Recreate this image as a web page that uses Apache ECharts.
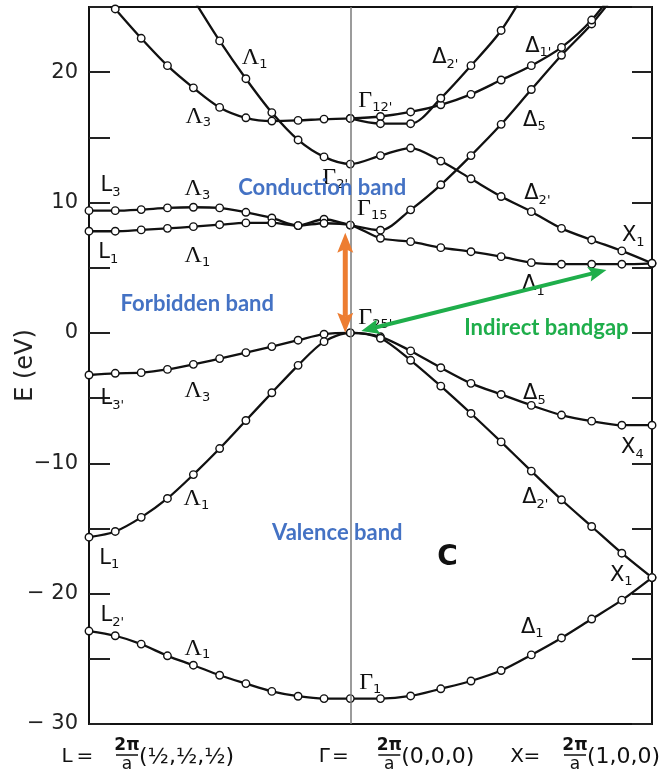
<!DOCTYPE html>
<html>
<head>
<meta charset="utf-8">
<title>Band structure of diamond</title>
<script src="https://cdn.jsdelivr.net/npm/echarts@6.0.0/dist/echarts.min.js"></script>
<style>
  html, body { margin: 0; padding: 0; background: #fff; }
  #chart { width: 667px; height: 776px; }
</style>
</head>
<body>
<div id="chart"></div>
<script>
// Wave-vector of the computed points, in units of 2π/a (|ΓL| = √3/2, |ΓX| = 1)
const kLG = [-0.866, -0.779, -0.693, -0.606, -0.520, -0.433, -0.346, -0.260, -0.173, -0.087, 0];
const kGX = [0, 0.1, 0.2, 0.3, 0.4, 0.5, 0.6, 0.7, 0.8, 0.9, 1.0];

// Energies (eV) along L → Γ (Λ direction); null = above the plotted range
const lamCondA1High = [null, null, null, null, 25.6, 22.4, 19.5, 16.9, 14.8, 13.5, 12.95];
const lamCondA3High = [null, 24.85, 22.6, 20.5, 18.8, 17.3, 16.5, 16.25, 16.3, 16.4, 16.45];
const lamCondL3 = [9.38, 9.38, 9.46, 9.59, 9.64, 9.59, 9.25, 8.82, 8.23, 8.72, 8.27];
const lamCondL1 = [7.8, 7.8, 7.9, 8.02, 8.15, 8.3, 8.44, 8.44, 8.23, 8.41, 8.27];
const lamValL3p = [-3.23, -3.1, -3.05, -2.8, -2.41, -1.97, -1.51, -1.05, -0.56, -0.1, 0];
const lamValL1 = [-15.67, -15.23, -14.15, -12.7, -10.87, -8.87, -6.72, -4.59, -2.49, -0.67, 0];
const lamValL2p = [-22.87, -23.23, -23.87, -24.77, -25.49, -26.26, -26.9, -27.5, -27.87, -28.05, -28.05];

// Energies (eV) along Γ → X (Δ direction)
const delCond2pHigh = [16.45, 16.05, 16.05, 18.0, 20.5, 23.2, 27.0, null, null, null, null];
const delCond1p = [16.45, 16.6, 16.95, 17.5, 18.3, 19.4, 20.5, 21.9, 24.0, 27.0, null];
const delCond5 = [8.27, 7.88, 9.44, 11.36, 13.6, 16.0, 18.67, 21.3, 23.7, 26.6, null];
const delCond2p = [12.95, 13.6, 14.18, 13.18, 11.82, 10.46, 9.3, 8.02, 7.13, 6.29, 5.34];
const delCond1 = [8.27, 7.26, 7.0, 6.54, 6.23, 5.85, 5.39, 5.27, 5.27, 5.27, 5.34];
const delVal5 = [0, -0.3, -1.38, -2.67, -3.87, -4.72, -5.56, -6.3, -6.77, -7.08, -7.08];
const delVal2p = [0, -0.41, -2.1, -4.08, -6.18, -8.36, -10.6, -12.8, -14.85, -16.9, -18.77];
const delVal1 = [-28.05, -28.05, -27.85, -27.3, -26.7, -25.9, -24.7, -23.4, -21.95, -20.5, -18.77];

// Energy axis
const energyMin = -30, energyMax = 25, energyStep = 5;
const energyLabelled = [-30, -20, -10, 0, 10, 20];

// Symmetry points on the k axis
const symNames = ['L', 'Γ', 'X'];
const symK = [-0.866, 0, 1];
const symVectors = ['(½,½,½)', '(0,0,0)', '(1,0,0)'];

// Irreducible-representation labels: symbol, subscript, anchor (k, E)
const bandLabels = [
  ['Λ', '1', -0.317, 21.1], ['Λ', '3', -0.504, 16.6], ['Γ', "12'", 0.083, 17.8],
  ['Δ', "2'", 0.315, 21.1], ['Δ', "1'", 0.623, 22.0], ['Δ', '5', 0.61, 16.3],
  ['Γ', "2'", -0.05, 11.9], ['Γ', '15', 0.073, 9.5], ['Δ', "2'", 0.62, 10.66],
  ['X', '1', 0.938, 7.44], ['L', '3', -0.795, 11.27], ['Λ', '3', -0.507, 11.04],
  ['L', '1', -0.802, 6.13], ['Λ', '1', -0.507, 5.9], ['Δ', '1', 0.607, 3.68],
  ['Γ', "25'", 0.083, 1.15], ['L', "3'", -0.789, -5.06], ['Λ', '3', -0.507, -4.45],
  ['Δ', '5', 0.61, -4.68], ['X', '4', 0.935, -8.82], ['Λ', '1', -0.51, -12.73],
  ['Δ', "2'", 0.613, -12.65], ['L', '1', -0.799, -17.3], ['X', '1', 0.898, -18.6],
  ['L', "2'", -0.789, -21.7], ['Λ', '1', -0.507, -24.2], ['Δ', '1', 0.603, -22.6],
  ['Γ', '1', 0.066, -26.84]
];

// Region captions: text, anchor (k, E)
const regionCaptions = [
  ['Conduction band', -0.093, 11.12],
  ['Forbidden band', -0.507, 2.22],
  ['Valence band', -0.043, -15.34]
];
const gapCaption = ['Indirect bandgap', 0.65, 0.38];

// Gap arrows, tip to tip: [k1, E1, k2, E2]
const directGap = [-0.0166, 7.69, -0.0166, 0.02];
const indirectGap = [0.0365, 0.15, 0.849, 4.83];

function pts(ks, es) {
  return ks.map((k, i) => [k, es[i]]).filter(p => p[1] !== null);
}
function through(left, right) {
  return pts(kLG, left).concat(pts(kGX, right).slice(1));
}

const bands = [
  through(lamValL3p, delVal5),
  through(lamValL1, delVal2p),
  through(lamValL2p, delVal1),
  through(lamCondL3, delCond5),
  through(lamCondL1, delCond1),
  through(lamCondA1High, delCond2p),
  through(lamCondA3High, delCond1p),
  pts(kGX, delCond2pHigh)
];

const INK = '#111';
const ORANGE = '#ED7D31';
const GREEN = '#1FAE4B';
const BLUE = '#4472C4';

const bandSeries = bands.map(d => ({
  type: 'line',
  data: d,
  smooth: 0.3,
  symbol: 'circle',
  symbolSize: 7.5,
  showSymbol: true,
  clip: true,
  z: 3,
  lineStyle: { color: INK, width: 2.3 },
  itemStyle: { color: '#fff', borderColor: INK, borderWidth: 1.4 },
  emphasis: { disabled: true },
  silent: true
}));

// Double-headed arrow between two data points
function arrowItem(params, api) {
  const a = api.coord([api.value(0), api.value(1)]);
  const b = api.coord([api.value(2), api.value(3)]);
  const direct = api.value(4) === 0;
  const color = direct ? ORANGE : GREEN;
  const width = direct ? 5 : 4;
  const headLen = direct ? 20 : 18;
  const headHalf = direct ? 8 : 7.5;
  const dx = b[0] - a[0], dy = b[1] - a[1];
  const len = Math.sqrt(dx * dx + dy * dy);
  const ux = dx / len, uy = dy / len;
  const nx = -uy, ny = ux;
  function head(tip, sx, sy) {
    const bx = tip[0] + sx * headLen, by = tip[1] + sy * headLen;
    const nb = [tip[0] + sx * headLen * 0.82, tip[1] + sy * headLen * 0.82];
    return {
      type: 'polygon',
      shape: { points: [tip, [bx + nx * headHalf, by + ny * headHalf], nb, [bx - nx * headHalf, by - ny * headHalf]] },
      style: { fill: color }
    };
  }
  return {
    type: 'group',
    children: [
      {
        type: 'line',
        shape: { x1: a[0] + ux * headLen * 0.8, y1: a[1] + uy * headLen * 0.8, x2: b[0] - ux * headLen * 0.8, y2: b[1] - uy * headLen * 0.8 },
        style: { stroke: color, lineWidth: width }
      },
      head(a, ux, uy),
      head(b, -ux, -uy)
    ]
  };
}

const labelHost = { type: 'scatter', silent: true, symbolSize: 0, itemStyle: { color: 'transparent' } };

const chart = echarts.init(document.getElementById('chart'), null, { renderer: 'canvas' });

chart.setOption({
  animation: false,
  backgroundColor: '#fff',
  grid: {
    left: 89, right: 15, top: 7, bottom: 52,
    outerBoundsMode: 'none', containLabel: false,
    show: true, borderColor: INK, borderWidth: 2, backgroundColor: 'transparent'
  },
  xAxis: {
    type: 'value', min: symK[0], max: symK[2],
    axisLine: { show: false, onZero: false }, axisTick: { show: false }, axisLabel: { show: false }, splitLine: { show: false }
  },
  yAxis: [
    {
      type: 'value', min: energyMin, max: energyMax, interval: energyStep, position: 'left',
      axisLine: { show: false, onZero: false },
      axisTick: { show: true, inside: true, length: 21, lineStyle: { color: '#222', width: 2 } },
      splitLine: { show: false },
      axisLabel: {
        margin: 11, fontSize: 21, color: '#222', fontFamily: 'DejaVu Sans',
        showMaxLabel: true, showMinLabel: true,
        formatter: v => energyLabelled.includes(v)
          ? (v < 0 ? (v === -10 ? '−10' : '− ' + (-v)) : String(v)) : ''
      },
      name: 'E (eV)', nameLocation: 'middle', nameGap: 51, nameMoveOverlap: false,
      nameTextStyle: { fontSize: 24, color: '#222', fontFamily: 'DejaVu Sans' }
    },
    {
      type: 'value', min: energyMin, max: energyMax, interval: energyStep, position: 'right',
      axisLine: { show: false, onZero: false },
      axisTick: { show: true, inside: true, length: 20, lineStyle: { color: '#222', width: 2 } },
      axisLabel: { show: false }, splitLine: { show: false }
    }
  ],
  series: [
    Object.assign({}, labelHost, {
      // vertical line through Γ
      data: [[0, 0]], z: 1,
      markLine: {
        silent: true, symbol: ['none', 'none'], animation: false,
        label: { show: false },
        lineStyle: { color: '#7a7a7a', width: 1.5, type: 'solid' },
        data: [{ xAxis: 0 }]
      }
    }),
    ...bandSeries,
    Object.assign({}, labelHost, {
      // representation labels
      z: 6,
      data: bandLabels.map(b => [b[2], b[3]]),
      label: {
        show: true, position: 'inside', opacity: 1,
        formatter: p => {
          const b = bandLabels[p.dataIndex];
          const st = (b[0] === 'Γ' || b[0] === 'Λ') ? 'gs' : 'g';
          return '{' + st + '|' + b[0] + '}{s|' + b[1] + '}';
        },
        rich: {
          gs: { fontFamily: 'Liberation Serif', fontSize: 24, lineHeight: 26, color: INK },
          g: { fontFamily: 'DejaVu Sans', fontSize: 21, lineHeight: 26, color: INK },
          s: { fontFamily: 'DejaVu Sans', fontSize: 13, lineHeight: 14, verticalAlign: 'bottom', color: INK }
        }
      }
    }),
    Object.assign({}, labelHost, {
      // the crystal: carbon
      z: 6,
      data: [[0.322, -17.25]],
      label: { show: true, position: 'inside', opacity: 1, formatter: 'C', fontFamily: 'DejaVu Sans', fontWeight: 'bold', fontSize: 28, color: INK }
    }),
    Object.assign({}, labelHost, {
      // region captions
      z: 8,
      data: regionCaptions.map(c => [c[1], c[2]]),
      label: {
        show: true, position: 'inside', opacity: 1,
        formatter: p => regionCaptions[p.dataIndex][0],
        fontFamily: 'Lato', fontWeight: 'bold', fontSize: 22, color: BLUE
      }
    }),
    Object.assign({}, labelHost, {
      z: 8,
      data: [[gapCaption[1], gapCaption[2]]],
      label: {
        show: true, position: 'inside', opacity: 1, formatter: gapCaption[0],
        fontFamily: 'Lato', fontWeight: 'bold', fontSize: 22, color: GREEN
      }
    }),
    {
      // direct (Γ) and indirect gap arrows
      type: 'custom', z: 9, silent: true, clip: false,
      renderItem: arrowItem,
      data: [directGap.concat([0]), indirectGap.concat([1])]
    }
  ]
});

// Symmetry-point captions under the k axis: "P = 2π/a (h,k,l)"
const fracOffset = [38, 39, -77];
const nameShift = [-60, -65, -58];
const eqShift = [-42, -49, -43];
const yBase = chart.convertToPixel({ yAxisIndex: 0 }, energyMin);
const parts = [];
symNames.forEach((name, i) => {
  const f = chart.convertToPixel({ xAxisIndex: 0 }, symK[i]) + fracOffset[i];
  const font = { fontFamily: 'DejaVu Sans', fill: INK };
  parts.push(
    { type: 'text', x: f + nameShift[i], y: yBase + 33, style: Object.assign({ text: name, fontSize: 20, align: 'center', verticalAlign: 'middle' }, font) },
    { type: 'text', x: f + eqShift[i], y: yBase + 33, style: Object.assign({ text: '=', fontSize: 20, align: 'center', verticalAlign: 'middle' }, font) },
    { type: 'text', x: f, y: yBase + 22, style: Object.assign({ text: '2π', fontSize: 17, fontWeight: 'bold', align: 'center', verticalAlign: 'middle' }, font) },
    { type: 'line', shape: { x1: f - 11, y1: yBase + 31, x2: f + 11, y2: yBase + 31 }, style: { stroke: INK, lineWidth: 1.5 } },
    { type: 'text', x: f, y: yBase + 41, style: Object.assign({ text: 'a', fontSize: 17, align: 'center', verticalAlign: 'middle' }, font) },
    { type: 'text', x: f + 12, y: yBase + 33, style: Object.assign({ text: symVectors[i], fontSize: 22, align: 'left', verticalAlign: 'middle' }, font) }
  );
});
chart.setOption({ graphic: [{ type: 'group', silent: true, children: parts }] });
</script>
</body>
</html>
